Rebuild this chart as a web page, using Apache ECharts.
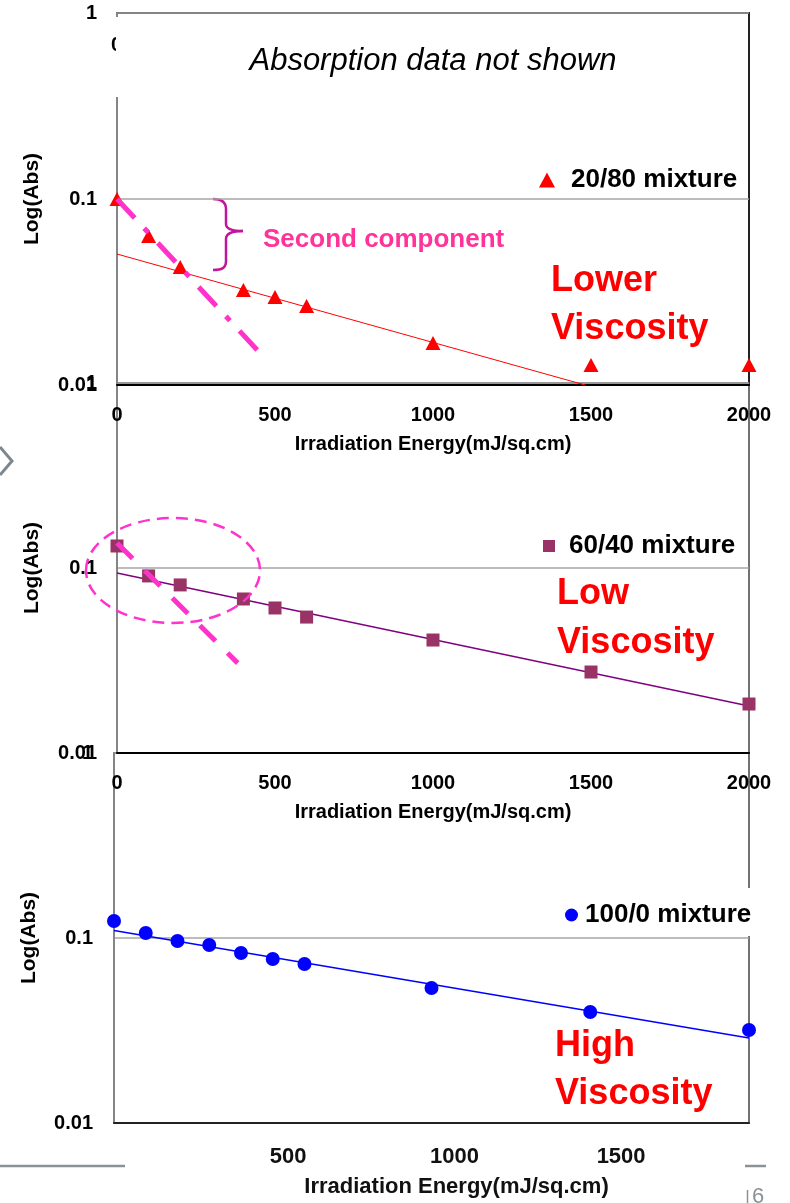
<!DOCTYPE html>
<html>
<head>
<meta charset="utf-8">
<script src="https://cdn.jsdelivr.net/npm/echarts@6/dist/echarts.min.js"></script>
<style>
  html, body { margin: 0; padding: 0; background: #ffffff; }
  #chart { width: 790px; height: 1203px; }
</style>
</head>
<body>
<div id="chart"></div>
<script>
// Irradiation energy (mJ/sq.cm) of each measurement
const energyA = [0, 100, 200, 400, 500, 600, 1000, 1500, 2000];
const energyC = [0, 100, 200, 300, 400, 500, 600, 1000, 1500, 2000];

// Absorbance per mixture
const abs2080 = [0.100, 0.0633, 0.0431, 0.0324, 0.0297, 0.0266, 0.0168, 0.0128, 0.0128];
const abs6040 = [0.1315, 0.0906, 0.0810, 0.0680, 0.0608, 0.0543, 0.0408, 0.0274, 0.0184];
const abs1000 = [0.1236, 0.1064, 0.0963, 0.0917, 0.0830, 0.0770, 0.0724, 0.0537, 0.0398, 0.0318];

// Fitted slow-decay lines, [energy, absorbance] end points
const fit2080 = [[0, 0.0506], [1481, 0.01]];
const fit6040 = [[0, 0.0940], [2000, 0.01795]];
const fit1000 = [[0, 0.1098], [2000, 0.0288]];

// Fast second-component decay
const second2080 = [[0, 0.100], [452, 0.0149]];
const second6040 = [[0, 0.1365], [382, 0.0306]];

// Tick labels
const xTicksBottom = [500, 1000, 1500];
const seriesNames = ['20/80 mixture', '60/40 mixture', '100/0 mixture'];

const font = "'Liberation Sans', Arial, Helvetica, sans-serif";
const bold = (size, color) => ({ fontFamily: font, fontWeight: 'bold', fontSize: size, color: color || '#000' });
const pair = (xs, ys) => xs.map((x, k) => [x, ys[k]]);
const plain = v => String(v);

const grids = [
  { left: 117, top: 13,  width: 632, height: 372, borderColor: '#222', borderWidth: 2 },
  { left: 117, top: 383, width: 632, height: 370, borderColor: '#444', borderWidth: 1.5 },
  { left: 114, top: 753, width: 635, height: 370, borderColor: '#444', borderWidth: 1.5 }
].map(g => Object.assign(g, { show: true, backgroundColor: 'transparent' }));

function yAxis(i, margin) {
  return {
    type: 'log', gridIndex: i, min: 0.01, max: 1, logBase: 10,
    name: 'Log(Abs)', nameLocation: 'middle', nameGap: 74, nameRotate: 90,
    nameTextStyle: bold(21),
    axisLine: { show: true, onZero: false, lineStyle: { color: '#858585', width: 2 } },
    axisTick: { show: false },
    axisLabel: Object.assign({ margin: margin, formatter: v => String(parseFloat(v.toPrecision(3))) }, bold(20)),
    splitLine: { show: true, lineStyle: { color: '#a6a6a6', width: 1.5 } }
  };
}

function xAxis(i) {
  return {
    type: 'value', gridIndex: i, min: 0, max: 2000, interval: 500, position: 'bottom',
    name: 'Irradiation Energy(mJ/sq.cm)', nameLocation: 'middle', nameGap: 49,
    nameTextStyle: bold(20),
    axisLine: { onZero: false, lineStyle: { color: '#000', width: 2 } },
    axisTick: { show: false },
    axisLabel: Object.assign({ margin: 20, showMaxLabel: true, showMinLabel: true, formatter: plain }, bold(20)),
    splitLine: { show: false }
  };
}

const option = {
  animation: false,
  backgroundColor: '#ffffff',
  grid: grids,
  xAxis: [
    xAxis(0),
    xAxis(1),
    // data scale of the lowest panel
    { type: 'value', gridIndex: 2, min: 0, max: 2000, position: 'bottom', show: false },
    // printed scale of the lowest panel
    {
      type: 'value', gridIndex: 2, min: -22.5, max: 1884, position: 'bottom',
      name: 'Irradiation Energy(mJ/sq.cm)', nameLocation: 'middle', nameGap: 53,
      nameTextStyle: Object.assign({ padding: [0, 0, 0, 50] }, bold(22, '#111')),
      axisLine: { onZero: false, lineStyle: { color: '#222', width: 2 } },
      axisTick: { show: false },
      axisLabel: Object.assign({ margin: 23, customValues: xTicksBottom, formatter: plain }, bold(22, '#111')),
      splitLine: { show: false }
    }
  ],
  yAxis: [yAxis(0, 20), yAxis(1, 20), yAxis(2, 21)],
  legend: [
    {
      data: [{ name: seriesNames[0], icon: 'triangle' }], selectedMode: false,
      left: 539, top: 167, padding: 0, itemWidth: 16, itemHeight: 15,
      textStyle: Object.assign({ padding: [0, 0, 0, 11] }, bold(26))
    },
    {
      data: [{ name: seriesNames[1], icon: 'rect' }], selectedMode: false,
      left: 543, top: 533, padding: 0, itemWidth: 12, itemHeight: 12,
      textStyle: Object.assign({ padding: [0, 0, 0, 9] }, bold(26))
    },
    {
      data: [{ name: seriesNames[2], icon: 'circle' }], selectedMode: false,
      left: 561, top: 888, padding: [14, 4, 8, 4], itemWidth: 13, itemHeight: 13,
      backgroundColor: '#ffffff',
      textStyle: Object.assign({ padding: [0, 0, 0, 2] }, bold(26))
    }
  ],
  series: [
    // 20/80 mixture
    { type: 'line', xAxisIndex: 0, yAxisIndex: 0, data: fit2080, symbol: 'none', silent: true,
      lineStyle: { color: '#ff0000', width: 1 }, z: 2 },
    { type: 'scatter', name: seriesNames[0], xAxisIndex: 0, yAxisIndex: 0, data: pair(energyA, abs2080),
      symbol: 'triangle', symbolSize: [15, 14], itemStyle: { color: '#ff0000', opacity: 1 }, z: 3 },
    { type: 'line', xAxisIndex: 0, yAxisIndex: 0, data: second2080, symbol: 'none', silent: true,
      lineStyle: { color: '#ff33cc', width: 5, type: [26, 14, 6, 14], cap: 'butt' }, z: 5 },

    // 60/40 mixture
    { type: 'line', xAxisIndex: 1, yAxisIndex: 1, data: fit6040, symbol: 'none', silent: true,
      lineStyle: { color: '#800080', width: 1.5 }, z: 2 },
    { type: 'scatter', name: seriesNames[1], xAxisIndex: 1, yAxisIndex: 1, data: pair(energyA, abs6040),
      symbol: 'rect', symbolSize: 13, itemStyle: { color: '#993366', opacity: 1 }, z: 3 },
    { type: 'line', xAxisIndex: 1, yAxisIndex: 1, data: second6040, symbol: 'none', silent: true,
      lineStyle: { color: '#ff33cc', width: 5, type: [22, 17], cap: 'butt' }, z: 5 },

    // 100/0 mixture
    { type: 'line', xAxisIndex: 2, yAxisIndex: 2, data: fit1000, symbol: 'none', silent: true,
      lineStyle: { color: '#0000ff', width: 1.5 }, z: 2 },
    { type: 'scatter', name: seriesNames[2], xAxisIndex: 2, yAxisIndex: 2, data: pair(energyC, abs1000),
      symbol: 'circle', symbolSize: 14, itemStyle: { color: '#0000ff', opacity: 1 }, z: 3 }
  ],
  graphic: [
    // partly hidden tick glyph under the note box
    { type: 'text', left: 111, top: 35, z: 40, style: { text: '0', font: 'bold 20px ' + font, fill: '#000' } },
    // note box over the upper panel
    { type: 'rect', shape: { x: 116, y: 17, width: 631, height: 80 }, style: { fill: '#ffffff' }, z: 50 },
    { type: 'text', x: 433, y: 61, z: 51,
      style: { text: 'Absorption data not shown', font: 'italic 31px ' + font, fill: '#000', align: 'center', verticalAlign: 'middle' } },

    // brace marking the second component
    { type: 'group', z: 10, children: [
      { type: 'bezierCurve', shape: { x1: 213, y1: 199, cpx1: 222, cpy1: 199, cpx2: 226, cpy2: 202, x2: 226, y2: 209 },
        style: { stroke: '#c0169c', lineWidth: 2.5, fill: null } },
      { type: 'line', shape: { x1: 226, y1: 209, x2: 226, y2: 224 }, style: { stroke: '#c0169c', lineWidth: 2.5 } },
      { type: 'bezierCurve', shape: { x1: 226, y1: 224, cpx1: 226, cpy1: 229, cpx2: 232, cpy2: 231, x2: 243, y2: 231 },
        style: { stroke: '#c0169c', lineWidth: 2.5, fill: null } },
      { type: 'bezierCurve', shape: { x1: 243, y1: 231, cpx1: 232, cpy1: 231, cpx2: 226, cpy2: 233, x2: 226, y2: 239 },
        style: { stroke: '#c0169c', lineWidth: 2.5, fill: null } },
      { type: 'line', shape: { x1: 226, y1: 239, x2: 226, y2: 261 }, style: { stroke: '#c0169c', lineWidth: 2.5 } },
      { type: 'bezierCurve', shape: { x1: 226, y1: 261, cpx1: 226, cpy1: 268, cpx2: 222, cpy2: 270, x2: 213, y2: 270 },
        style: { stroke: '#c0169c', lineWidth: 2.5, fill: null } }
    ] },
    { type: 'text', x: 263, y: 240, z: 10,
      style: { text: 'Second component', font: 'bold 26px ' + font, fill: '#ff3399', verticalAlign: 'middle' } },

    // circled fast-decay region in the middle panel
    { type: 'ellipse', shape: { cx: 173, cy: 570.5, rx: 87, ry: 52.5 }, z: 10,
      style: { fill: null, stroke: '#ff33cc', lineWidth: 2.5, lineDash: [12, 7] } },

    // viscosity notes
    { type: 'text', x: 551, y: 257, z: 10,
      style: { text: 'Lower\nViscosity', font: 'bold 36px ' + font, lineHeight: 48, fill: '#ff0000' } },
    { type: 'text', x: 557, y: 570, z: 10,
      style: { text: 'Low\nViscosity', font: 'bold 36px ' + font, lineHeight: 48.5, fill: '#ff0000' } },
    { type: 'text', x: 555, y: 1022, z: 10,
      style: { text: 'High\nViscosity', font: 'bold 36px ' + font, lineHeight: 48, fill: '#ff0000' } },

    // slide frame pieces
    { type: 'polyline', shape: { points: [[0, 447], [12, 461], [0, 475]] }, z: 10,
      style: { stroke: '#7f878e', lineWidth: 3, fill: null } },
    { type: 'line', shape: { x1: 0, y1: 1166, x2: 125, y2: 1166 }, z: 10, style: { stroke: '#8a9298', lineWidth: 2.5 } },
    { type: 'line', shape: { x1: 745, y1: 1166, x2: 766, y2: 1166 }, z: 10, style: { stroke: '#8a9298', lineWidth: 2.5 } },
    { type: 'line', shape: { x1: 747.5, y1: 1190, x2: 747.5, y2: 1203 }, z: 10, style: { stroke: '#8a9298', lineWidth: 1.5 } },
    { type: 'text', x: 752, y: 1186, z: 10, style: { text: '6', font: '22px ' + font, fill: '#8a9298' } }
  ]
};

const chart = echarts.init(document.getElementById('chart'), null, { renderer: 'canvas' });
chart.setOption(option);
</script>
</body>
</html>
